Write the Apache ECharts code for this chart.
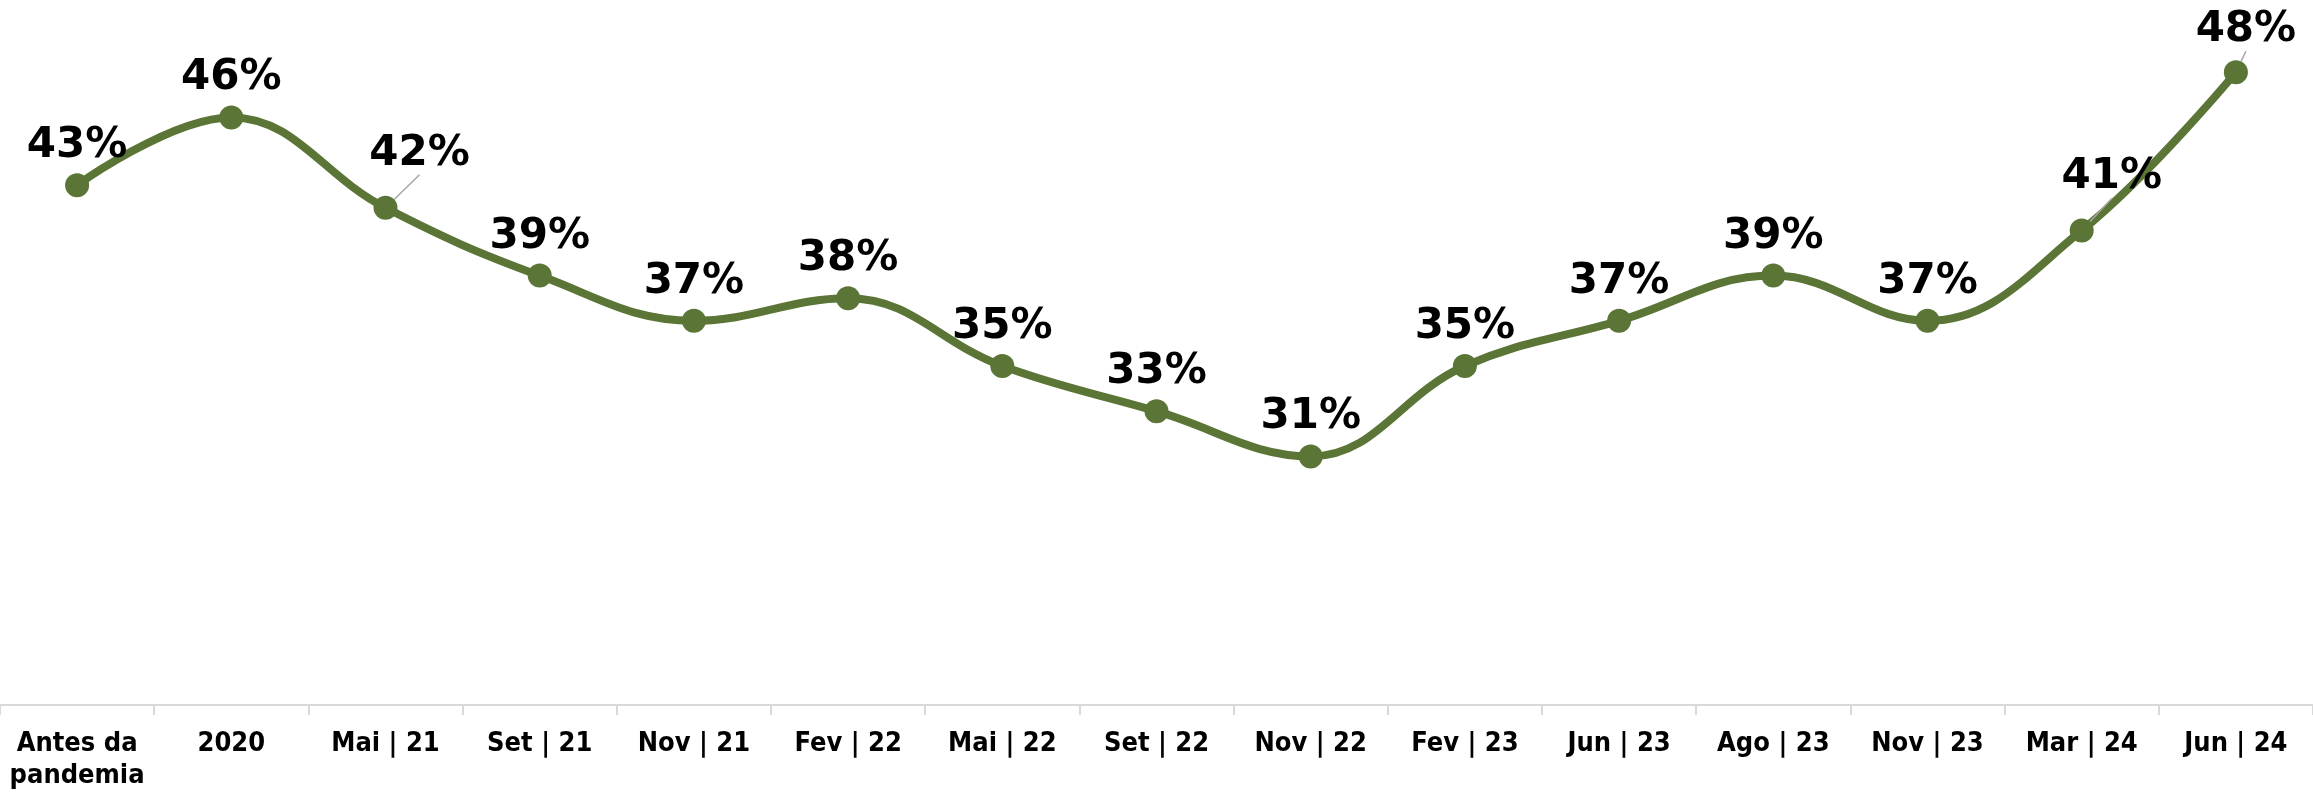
<!DOCTYPE html>
<html>
<head>
<meta charset="utf-8">
<script src="https://cdn.jsdelivr.net/npm/echarts@6/dist/echarts.min.js"></script>
<style>html,body{margin:0;padding:0;background:#fff}#c{width:2313px;height:792px}</style>
</head>
<body>
<div id="c"></div>
<script>
const categories = ['Antes da\npandemia','2020','Mai | 21','Set | 21','Nov | 21','Fev | 22','Mai | 22','Set | 22','Nov | 22','Fev | 23','Jun | 23','Ago | 23','Nov | 23','Mar | 24','Jun | 24'];
const values = [43,46,42,39,37,38,35,33,31,35,37,39,37,41,48];
const labelShifts = {2:[34,-15],13:[30,-14],14:[10,-3]};

const seriesData = values.map((v,i)=>({
  value:v,
  labelLine:{show: !!labelShifts[i]}
}));

const chart = echarts.init(document.getElementById('c'));
chart.setOption({
  animation:false,
  grid:{left:0,right:0,top:27,bottom:84},
  xAxis:{
    type:'category',data:categories,boundaryGap:true,
    axisLine:{lineStyle:{color:'#d9d9d9',width:2}},
    axisTick:{show:true,length:10,lineStyle:{color:'#d9d9d9',width:2}},
    axisLabel:{interval:0,color:'#000',fontFamily:'DejaVu Sans Condensed',fontWeight:'bold',fontSize:27,lineHeight:32,margin:23,verticalAlign:'top'}
  },
  yAxis:{type:'value',min:20,max:50,show:false,splitLine:{show:false}},
  series:[{
    type:'line',data:seriesData,smooth:0.4,
    symbol:'circle',symbolSize:24,
    lineStyle:{color:'#5a7535',width:8},
    itemStyle:{color:'#5a7535'},
    label:{show:true,position:'top',distance:6,formatter:p=>p.value+'%',color:'#000',fontFamily:'DejaVu Sans',fontWeight:'bold',fontSize:42},
    labelLine:{show:false,lineStyle:{color:'#a6a6a6',width:1.5}},
    labelLayout:function(p){
      const s = labelShifts[p.dataIndex];
      if(s) return {dx:s[0],dy:s[1]};
      return {};
    }
  }]
});
</script>
</body>
</html>
